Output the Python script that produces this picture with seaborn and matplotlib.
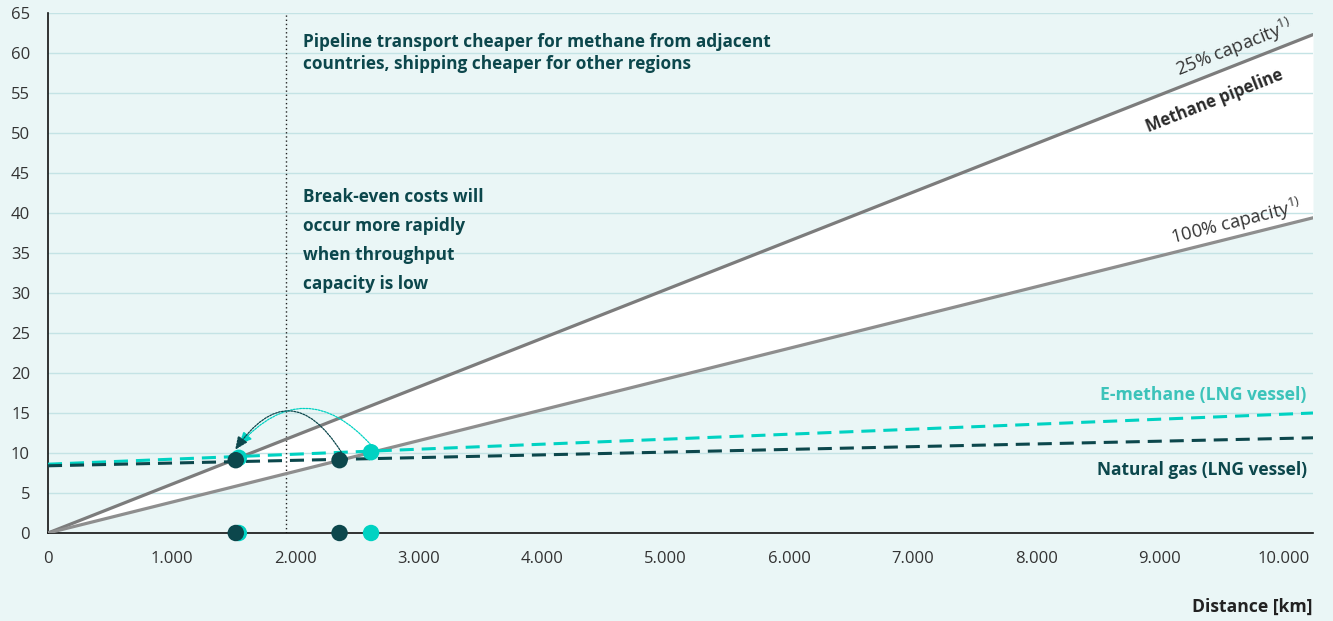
import numpy as np
import pandas as pd
import matplotlib
matplotlib.use("Agg")
import matplotlib.pyplot as plt
import seaborn as sns

# ---- data ----
distance_km = [0, 10240]
pipeline_25 = [0, 62.3]
pipeline_100 = [0, 39.4]
e_methane_lng = [8.6, 15.0]
natural_gas_lng = [8.4, 11.9]

breakeven_ng_x = [1520, 2360]
breakeven_ng_y = [9.1, 9.1]
breakeven_em_x = [1545, 2615]
breakeven_em_y = [9.4, 10.1]

threshold_km = 1925

yticks = list(range(0, 70, 5))
xticks = list(range(0, 11000, 1000))
xtick_labels = ["0"] + [f"{k}.000" for k in range(1, 11)]

BG = "#eaf6f6"
GRID = "#c4e3e5"
DARK = "#0c474c"
TEAL = "#00d2c2"
TEAL_TXT = "#3cc3ba"
GRAY25 = "#7c7c7c"
GRAY100 = "#8e8e8e"

sns.set_style("white")
plt.rcParams["font.family"] = ["Open Sans", "DejaVu Sans"]
plt.rcParams["mathtext.fontset"] = "custom"
plt.rcParams["mathtext.rm"] = "Open Sans"

fig = plt.figure(figsize=(13.33, 6.21), dpi=100, facecolor=BG)
ax = fig.add_axes([48/1333, 1-533/621, (1313-48)/1333, (533-13)/621])
ax.set_facecolor(BG)

df = pd.DataFrame({"d": distance_km, "p25": pipeline_25, "p100": pipeline_100,
                   "em": e_methane_lng, "ng": natural_gas_lng})

ax.fill_between(df["d"], df["p100"], df["p25"], color="white", lw=0, zorder=0.2)

sns.lineplot(data=df, x="d", y="p25", ax=ax, color=GRAY25, lw=2.3, zorder=3)
sns.lineplot(data=df, x="d", y="p100", ax=ax, color=GRAY100, lw=2.3, zorder=3)
sns.lineplot(data=df, x="d", y="em", ax=ax, color=TEAL, lw=2.2, zorder=3)
ax.lines[-1].set_linestyle((0, (4.6, 2.6)))
sns.lineplot(data=df, x="d", y="ng", ax=ax, color=DARK, lw=2.2, zorder=3)
ax.lines[-1].set_linestyle((0, (4.6, 2.6)))

ax.axvline(threshold_km, ymin=0, ymax=1, color="#222222", lw=1.0,
           linestyle=(0, (1, 2)), zorder=2)

# breakeven dots
sns.scatterplot(x=breakeven_em_x, y=breakeven_em_y, ax=ax, color=TEAL, s=140,
                edgecolor="none", zorder=5, clip_on=False)
sns.scatterplot(x=breakeven_ng_x, y=breakeven_ng_y, ax=ax, color=DARK, s=140,
                edgecolor="none", zorder=6, clip_on=False)
sns.scatterplot(x=breakeven_em_x, y=[0]*len(breakeven_em_x), ax=ax, color=TEAL,
                s=140, edgecolor="none", zorder=5, clip_on=False)
sns.scatterplot(x=breakeven_ng_x, y=[0]*len(breakeven_ng_x), ax=ax, color=DARK,
                s=140, edgecolor="none", zorder=6, clip_on=False)

# curved arrows
ax.annotate("", xy=(breakeven_em_x[0], 11.0), xytext=(breakeven_em_x[1], 11.0),
            arrowprops=dict(arrowstyle="-|>,head_length=0.8,head_width=0.35",
                            connectionstyle="arc3,rad=0.55", color=TEAL,
                            lw=0.9, linestyle=(0, (1.5, 1)), shrinkA=0, shrinkB=0),
            zorder=4)
ax.annotate("", xy=(breakeven_ng_x[0] - 5, 10.4), xytext=(breakeven_ng_x[1] + 15, 10.1),
            arrowprops=dict(arrowstyle="-|>,head_length=0.8,head_width=0.35",
                            connectionstyle="arc3,rad=0.75", color=DARK,
                            lw=0.9, linestyle=(0, (1.5, 1)), shrinkA=0, shrinkB=0),
            zorder=4)

# axes styling
ax.set_xlim(0, 10240)
ax.set_ylim(0, 65)
ax.set_yticks(yticks)
ax.set_xticks(xticks)
ax.set_xticklabels(xtick_labels)
ax.set_axisbelow(True)
ax.grid(axis="y", color=GRID, lw=1.0)
ax.grid(axis="x", visible=False)
for s in ["top", "right"]:
    ax.spines[s].set_visible(False)
ax.spines["left"].set_color("#111111")
ax.spines["bottom"].set_color("#111111")
ax.spines["left"].set_linewidth(1.2)
ax.spines["bottom"].set_linewidth(1.2)
ax.tick_params(axis="y", length=0, pad=13, labelsize=12, labelcolor="#333333")
ax.tick_params(axis="x", length=0, pad=13, labelsize=12, labelcolor="#333333")
ax.set_xlabel("")
ax.set_ylabel("")
fig.text(1313/1333, 1-607/621, "Distance [km]", ha="right", va="center",
         fontsize=12.6, fontweight="bold", color="#222222")

# texts
ax.text(2065, 62.5, "Pipeline transport cheaper for methane from adjacent\n"
        "countries, shipping cheaper for other regions", ha="left", va="top",
        fontsize=12.4, fontweight="bold", color=DARK, linespacing=1.3)
ax.text(2065, 43.1, "Break-even costs will\noccur more rapidly\nwhen throughput\n"
        "capacity is low", ha="left", va="top", fontsize=12.4, fontweight="bold",
        color=DARK, linespacing=1.78)

fig.canvas.draw()
def angle(y1):
    p0 = ax.transData.transform((0, 0))
    p1 = ax.transData.transform((distance_km[1], y1))
    return np.degrees(np.arctan2(p1[1]-p0[1], p1[0]-p0[0]))
a25 = angle(pipeline_25[1])
a100 = angle(pipeline_100[1])

ax.text(9600, 60.6, "25% capacity$^{1)}$", rotation=a25, ha="center", va="center",
        fontsize=13.2, color="#333333", rotation_mode="anchor")
ax.text(9440, 54.0, "Methane pipeline", rotation=a25, ha="center", va="center",
        fontsize=12, fontweight="bold", color="#2a2a2a", rotation_mode="anchor")
ax.text(9620, 38.9, "100% capacity$^{1)}$", rotation=a100, ha="center", va="center",
        fontsize=13.2, color="#333333", rotation_mode="anchor")
ax.text(10190, 17.3, "E-methane (LNG vessel)", ha="right", va="center",
        fontsize=12.6, fontweight="bold", color=TEAL_TXT)
ax.text(10190, 7.9, "Natural gas (LNG vessel)", ha="right", va="center",
        fontsize=12.5, fontweight="bold", color=DARK)

fig.savefig("out.png", dpi=100, facecolor=BG)
